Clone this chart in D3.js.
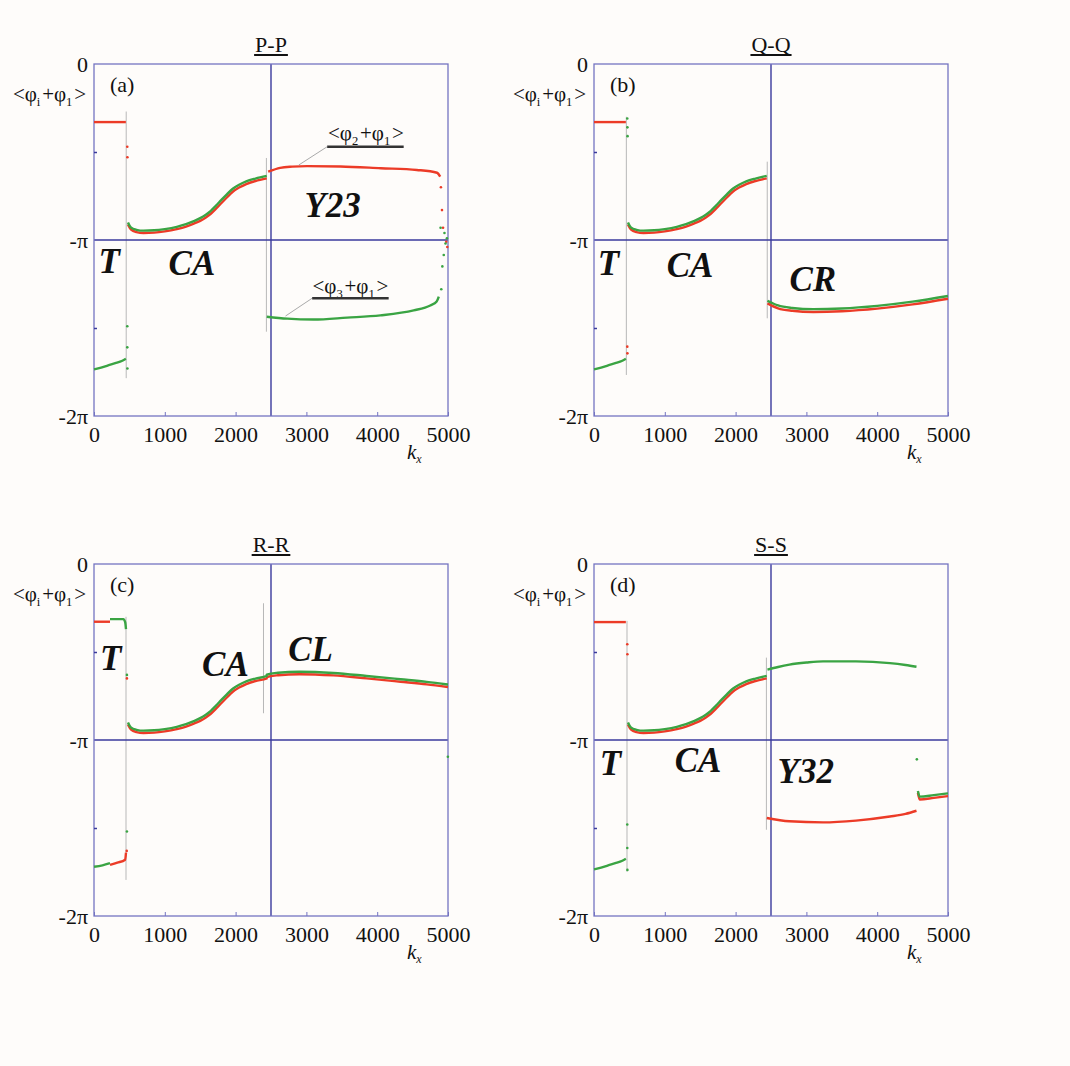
<!DOCTYPE html>
<html>
<head>
<meta charset="utf-8">
<script src="https://cdn.jsdelivr.net/npm/d3@7"></script>
<style>
  html, body { margin: 0; padding: 0; background: #fefcfa; }
  svg { display: block; }
  text { font-family: "Liberation Serif", "Times New Roman", serif; fill: #111; }
</style>
</head>
<body>
<svg id="chart" width="1070" height="1066"></svg>
<script>
// ---- axes ----
const kTicks = [0, 1000, 2000, 3000, 4000, 5000];
const phaseTicks = [0, -1, -2];                 // phase in units of π
const phaseTickLabels = ["0", "-π", "-2π"];
const phaseMinorTicks = [-0.5, -1.5];
const boundaryK = 2500;
const boundaryPhase = -1;

const panelTitles = ["P-P", "Q-Q", "R-R", "S-S"];
const panelTags = ["(a)", "(b)", "(c)", "(d)"];

// ---- phase sums <φi+φ1> (units of π) against k_x ----
// T regime
const tRedUpper = [[0, -0.33], [450, -0.33]];
const tGreenLower = [[0, -1.735], [100, -1.725], [200, -1.712], [300, -1.700], [400, -1.686], [450, -1.675]];
// CA regime
const caGreen = [[480, -0.900], [520, -0.928], [600, -0.942], [700, -0.947], [850, -0.945], [1000, -0.938],
  [1170, -0.925], [1300, -0.910], [1410, -0.893], [1500, -0.876], [1580, -0.856], [1650, -0.834],
  [1720, -0.806], [1800, -0.772], [1880, -0.739], [1960, -0.709], [2050, -0.686], [2150, -0.667],
  [2280, -0.651], [2440, -0.636]];
const caRed = [[480, -0.912], [520, -0.940], [600, -0.955], [700, -0.960], [850, -0.958], [1000, -0.951],
  [1170, -0.938], [1300, -0.924], [1410, -0.907], [1500, -0.891], [1580, -0.872], [1650, -0.851],
  [1720, -0.824], [1800, -0.790], [1880, -0.757], [1960, -0.726], [2050, -0.702], [2150, -0.682],
  [2280, -0.665], [2440, -0.650]];
// (a) Y23 regime
const y23Red = [[2460, -0.612], [2630, -0.590], [2800, -0.583], [3010, -0.580], [3480, -0.582],
  [4050, -0.592], [4560, -0.602], [4845, -0.618], [4890, -0.640]];
const y23Green = [[2440, -1.436], [2730, -1.447], [3100, -1.452], [3575, -1.441], [4045, -1.428],
  [4515, -1.400], [4750, -1.372], [4840, -1.350], [4870, -1.322]];
// (b) CR regime
const crGreen = [[2450, -1.345], [2600, -1.372], [2800, -1.386], [3100, -1.393], [3500, -1.389],
  [4000, -1.374], [4500, -1.350], [5000, -1.318]];
const crRed = [[2450, -1.360], [2600, -1.388], [2800, -1.402], [3100, -1.409], [3500, -1.405],
  [4000, -1.390], [4500, -1.366], [5000, -1.334]];
// (c) T regime (split between the two sums) and CL regime
const cTRedUpper = [[0, -0.328], [226, -0.328]];
const cTGreenUpper = [[226, -0.313], [415, -0.313], [440, -0.330], [452, -0.370]];
const cTGreenLower = [[0, -1.720], [120, -1.712], [226, -1.700]];
const cTRedLower = [[226, -1.710], [330, -1.697], [440, -1.680], [452, -1.640]];
const clGreen = [[2440, -0.628], [2600, -0.618], [2900, -0.612], [3380, -0.619], [3850, -0.636],
  [4330, -0.655], [4700, -0.670], [5000, -0.685]];
const clRed = [[2440, -0.642], [2600, -0.632], [2900, -0.626], [3380, -0.633], [3850, -0.650],
  [4330, -0.669], [4700, -0.684], [5000, -0.699]];
// (d) Y32 regime and the tail after k_x ≈ 4570
const y32Green = [[2450, -0.600], [2600, -0.585], [2760, -0.572], [3000, -0.560], [3235, -0.553],
  [3700, -0.553], [4180, -0.563], [4400, -0.574], [4555, -0.584]];
const y32Red = [[2440, -1.443], [2760, -1.462], [3235, -1.468], [3700, -1.458], [4180, -1.435],
  [4400, -1.420], [4555, -1.402]];
const tailGreen = [[4575, -1.290], [4600, -1.322], [4800, -1.313], [5000, -1.303]];
const tailRed = [[4575, -1.300], [4600, -1.338], [4800, -1.329], [5000, -1.319]];

// isolated points in the switching zones
const dotsRed = [
  [[470, -0.47], [472, -0.53], [4900, -0.70], [4915, -0.83], [4930, -0.93], [4975, -1.01], [4990, -1.04]],
  [[470, -1.606], [472, -1.644]],
  [[462, -1.63], [465, -0.65]],
  [[470, -0.456], [472, -0.513]]
];
const dotsGreen = [
  [[470, -1.49], [470, -1.61], [472, -1.73], [4905, -1.28], [4920, -1.15], [4940, -1.085],
    [4965, -1.02], [4985, -0.99], [4950, -0.96], [4895, -0.93]],
  [[470, -0.31], [472, -0.36], [474, -0.41]],
  [[465, -0.63], [465, -1.52], [4998, -1.095]],
  [[470, -1.48], [470, -1.614], [472, -1.738], [4560, -1.11]]
];

// thin transition markers: [k_x, top, bottom]
const transitionMarks = [
  [[455, -0.27, -1.785], [2435, -0.534, -1.521]],
  [[457, -0.30, -1.767], [2447, -0.555, -1.445]],
  [[452, -0.30, -1.795], [2394, -0.223, -0.848]],
  [[466, -0.323, -1.748], [2435, -0.532, -1.51]]
];

// regime names: [text, k_x, phase]
const regimeLabels = [
  [["T", 62, -1.19], ["CA", 1054, -1.20], ["Y23", 2973, -0.87]],
  [["T", 52, -1.20], ["CA", 1026, -1.21], ["CR", 2761, -1.29]],
  [["T", 85, -0.60], ["CA", 1527, -0.636], ["CL", 2743, -0.552]],
  [["T", 80, -1.20], ["CA", 1139, -1.18], ["Y32", 2592, -1.245]]
];

// ---- drawing ----
const svg = d3.select("#chart");
svg.append("rect").attr("width", 1070).attr("height", 1066).attr("fill", "#fefcfa");

const plotW = 354, plotH = 352;
const lefts = [94, 594], tops = [64, 564];
const frameColor = "#7474c2";
const axisLineColor = "#3a3a9c";
const redColor = "#ec3b27";
const greenColor = "#3aa443";

const panelRed = [
  [tRedUpper, caRed, y23Red],
  [tRedUpper, caRed, crRed],
  [cTRedUpper, cTRedLower, caRed.concat(clRed)],
  [tRedUpper, caRed, y32Red, tailRed]
];
const panelGreen = [
  [tGreenLower, caGreen, y23Green],
  [tGreenLower, caGreen, crGreen],
  [cTGreenUpper, cTGreenLower, caGreen.concat(clGreen)],
  [tGreenLower, caGreen, y32Green, tailGreen]
];

// text with subscripts, e.g. <φi+φ1>
function phiLabel(sel, parts, size) {
  parts.forEach(p => {
    if (p.sub) {
      sel.append("tspan").attr("font-size", size * 0.6).attr("dy", size * 0.25).text(p.sub);
      sel.append("tspan").attr("font-size", size).attr("dy", -size * 0.25).text("\u200A");
    } else {
      sel.append("tspan").attr("font-size", size).text(p.t);
    }
  });
}

for (let i = 0; i < 4; i++) {
  const col = i % 2, row = Math.floor(i / 2);
  const g = svg.append("g").attr("transform", `translate(${lefts[col]},${tops[row]})`);

  const x = d3.scaleLinear().domain([0, 5000]).range([0, plotW]);
  const y = d3.scaleLinear().domain([-2, 0]).range([plotH, 0]);   // units of π
  const line = d3.line().x(d => x(d[0])).y(d => y(d[1])).curve(d3.curveMonotoneX);

  // transition markers
  g.selectAll(".mark").data(transitionMarks[i]).join("line")
    .attr("x1", d => x(d[0])).attr("x2", d => x(d[0]))
    .attr("y1", d => y(d[1])).attr("y2", d => y(d[2]))
    .attr("stroke", "#b8b8b8").attr("stroke-width", 1);

  // reference lines at -π and k_x = 2500
  g.append("line").attr("x1", 0).attr("x2", plotW)
    .attr("y1", y(boundaryPhase)).attr("y2", y(boundaryPhase))
    .attr("stroke", axisLineColor).attr("stroke-width", 1.4);
  g.append("line").attr("x1", x(boundaryK)).attr("x2", x(boundaryK))
    .attr("y1", 0).attr("y2", plotH)
    .attr("stroke", axisLineColor).attr("stroke-width", 1.4);

  // frame
  g.append("rect").attr("width", plotW).attr("height", plotH)
    .attr("fill", "none").attr("stroke", frameColor).attr("stroke-width", 1.3);

  // x axis
  const xAxis = g.append("g").attr("transform", `translate(0,${plotH})`)
    .call(d3.axisBottom(x).tickValues(kTicks).tickFormat(d3.format("d"))
      .tickSizeInner(-4).tickSizeOuter(0).tickPadding(10));
  xAxis.select(".domain").remove();
  xAxis.selectAll("line").attr("stroke", frameColor);
  xAxis.selectAll("text").attr("font-size", 22).attr("font-family", "Liberation Serif").attr("fill", "#111");

  // y axis
  const yAxis = g.append("g")
    .call(d3.axisLeft(y).tickValues(phaseTicks).tickFormat((d, j) => phaseTickLabels[j])
      .tickSize(0).tickPadding(6));
  yAxis.select(".domain").remove();
  yAxis.selectAll("text").attr("font-size", 22).attr("font-family", "Liberation Serif").attr("fill", "#111");
  const yMinor = g.append("g").call(d3.axisLeft(y).tickValues(phaseMinorTicks).tickSize(-3).tickFormat(""));
  yMinor.select(".domain").remove();
  yMinor.selectAll("line").attr("stroke", axisLineColor).attr("stroke-width", 1.5);

  // curves
  g.selectAll(".red").data(panelRed[i]).join("path")
    .attr("d", line).attr("fill", "none").attr("stroke", redColor)
    .attr("stroke-width", 2.4).attr("stroke-linejoin", "round");
  g.selectAll(".green").data(panelGreen[i]).join("path")
    .attr("d", line).attr("fill", "none").attr("stroke", greenColor)
    .attr("stroke-width", 2.4).attr("stroke-linejoin", "round");

  g.selectAll(".dr").data(dotsRed[i]).join("circle")
    .attr("cx", d => x(d[0])).attr("cy", d => y(d[1])).attr("r", 1.3).attr("fill", redColor);
  g.selectAll(".dg").data(dotsGreen[i]).join("circle")
    .attr("cx", d => x(d[0])).attr("cy", d => y(d[1])).attr("r", 1.3).attr("fill", greenColor);

  // regime names
  g.selectAll(".regime").data(regimeLabels[i]).join("text")
    .attr("x", d => x(d[1])).attr("y", d => y(d[2]))
    .attr("font-size", 35).attr("font-weight", "bold").attr("font-style", "italic")
    .text(d => d[0]);

  // panel tag
  g.append("text").attr("x", 16).attr("y", 28).attr("font-size", 22).text(panelTags[i]);

  // title, underlined
  const title = g.append("text").attr("x", plotW / 2).attr("y", -12)
    .attr("text-anchor", "middle").attr("font-size", 22).text(panelTitles[i]);
  const tw = title.node().getComputedTextLength();
  g.append("line").attr("x1", plotW / 2 - tw / 2 - 1).attr("x2", plotW / 2 + tw / 2 + 1)
    .attr("y1", -9).attr("y2", -9).attr("stroke", "#111").attr("stroke-width", 2);

  // y-axis label <φi+φ1>
  const yl = g.append("text").attr("x", -8).attr("y", 37).attr("text-anchor", "end");
  phiLabel(yl, [{t: "<φ"}, {sub: "i"}, {t: "+φ"}, {sub: "1"}, {t: ">"}], 21);

  // x-axis label k_x
  const xl = g.append("text").attr("x", 313).attr("y", plotH + 43).attr("font-size", 21).attr("font-style", "italic");
  xl.append("tspan").text("k");
  xl.append("tspan").attr("font-size", 12).attr("dy", 4).text("x");

  // callouts on panel (a)
  if (i === 0) {
    const callouts = [
      {parts: [{t: "<φ"}, {sub: "2"}, {t: "+φ"}, {sub: "1"}, {t: ">"}], k: 3840, v: -0.432,
       u1: 3293, u2: 4374, uv: -0.47, lk: 2892, lv: -0.574},
      {parts: [{t: "<φ"}, {sub: "3"}, {t: "+φ"}, {sub: "1"}, {t: ">"}], k: 3622, v: -1.299,
       u1: 3081, u2: 4162, uv: -1.331, lk: 2705, lv: -1.432}
    ];
    callouts.forEach(c => {
      const t = g.append("text").attr("x", x(c.k)).attr("y", y(c.v)).attr("text-anchor", "middle");
      phiLabel(t, c.parts, 21);
      g.append("line").attr("x1", x(c.u1)).attr("x2", x(c.u2)).attr("y1", y(c.uv)).attr("y2", y(c.uv))
        .attr("stroke", "#333").attr("stroke-width", 2.4);
      g.append("line").attr("x1", x(c.u1)).attr("y1", y(c.uv)).attr("x2", x(c.lk)).attr("y2", y(c.lv))
        .attr("stroke", "#aaa").attr("stroke-width", 1);
    });
  }
}
</script>
</body>
</html>
